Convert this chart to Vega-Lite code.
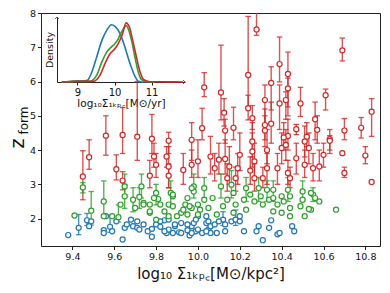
{
"$schema":"https://vega.github.io/schema/vega-lite/v6.json",
"width":339,"height":233,
"autosize":{"type":"none"},
"padding":{"left":41,"top":13,"right":10,"bottom":47},
"config":{"view":{"stroke":"#222","strokeWidth":1},"font":"DejaVu Sans",
 "axis":{"grid":false,"labelFont":"DejaVu Sans","titleFont":"DejaVu Sans","titleFontWeight":"normal","labelColor":"#111","titleColor":"#111","tickColor":"#222","domainColor":"#222","labelFontSize":9.5,"tickSize":3.5,"labelOverlap":false}},
"datasets":{
"pts":[
{"g":"A","x":9.38,"y":1.52},{"g":"A","x":9.43,"y":1.73,"lo":1.53,"hi":2.12},{"g":"A","x":9.47,"y":1.95,"lo":1.8,"hi":2.15},{"g":"A","x":9.48,"y":1.78},{"g":"A","x":9.49,"y":1.92},{"g":"A","x":9.55,"y":1.66},{"g":"A","x":9.55,"y":1.58},{"g":"A","x":9.58,"y":1.76,"lo":1.6,"hi":2.1},{"g":"A","x":9.59,"y":1.63},{"g":"A","x":9.56,"y":2.07},{"g":"A","x":9.61,"y":1.92},{"g":"A","x":9.64,"y":1.39},{"g":"A","x":9.65,"y":1.73},{"g":"A","x":9.66,"y":1.83},{"g":"A","x":9.68,"y":1.97},{"g":"A","x":9.69,"y":1.78},{"g":"A","x":9.71,"y":1.92},{"g":"A","x":9.71,"y":1.73},{"g":"A","x":9.72,"y":1.68},{"g":"A","x":9.74,"y":1.83},{"g":"A","x":9.76,"y":1.63},{"g":"A","x":9.78,"y":1.7},{"g":"A","x":9.78,"y":1.47},{"g":"A","x":9.8,"y":1.83},{"g":"A","x":9.82,"y":1.76},{"g":"A","x":9.84,"y":1.95},{"g":"A","x":9.85,"y":1.58},{"g":"A","x":9.86,"y":1.68},{"g":"A","x":9.89,"y":1.78},{"g":"A","x":9.91,"y":1.6},{"g":"A","x":9.92,"y":1.87},{"g":"A","x":9.95,"y":1.66},{"g":"A","x":9.96,"y":1.51},{"g":"A","x":9.97,"y":1.78},{"g":"A","x":9.99,"y":1.63},{"g":"A","x":9.82,"y":1.92},{"g":"A","x":9.84,"y":1.63},{"g":"A","x":9.88,"y":1.58},{"g":"A","x":9.89,"y":1.83},{"g":"A","x":9.92,"y":1.58},{"g":"A","x":9.95,"y":1.83},{"g":"A","x":9.97,"y":1.58},{"g":"A","x":9.98,"y":1.87},{"g":"A","x":10.04,"y":1.87},{"g":"A","x":10.05,"y":1.68},{"g":"A","x":10.06,"y":1.58},{"g":"A","x":10.04,"y":2.07},{"g":"A","x":10.0,"y":2.07},{"g":"A","x":9.86,"y":1.97},{"g":"A","x":9.99,"y":1.97},{"g":"A","x":10.0,"y":1.68},{"g":"A","x":10.02,"y":1.58},{"g":"A","x":10.05,"y":1.92},{"g":"A","x":10.06,"y":1.78},{"g":"A","x":10.08,"y":1.83},{"g":"A","x":10.09,"y":1.58},{"g":"A","x":10.12,"y":1.97,"lo":1.8,"hi":2.2},{"g":"A","x":10.13,"y":1.83},{"g":"A","x":10.13,"y":1.63},{"g":"A","x":10.16,"y":1.92},{"g":"A","x":10.18,"y":1.97,"lo":1.8,"hi":2.25},{"g":"A","x":10.2,"y":1.92},{"g":"A","x":10.22,"y":1.63},{"g":"A","x":10.2,"y":2.07},{"g":"A","x":10.29,"y":1.78},{"g":"A","x":10.28,"y":1.63},{"g":"A","x":10.31,"y":1.37},{"g":"A","x":10.35,"y":1.95},{"g":"A","x":10.34,"y":1.73},{"g":"A","x":10.38,"y":1.54},{"g":"A","x":10.39,"y":1.58},{"g":"A","x":10.45,"y":1.78},{"g":"A","x":10.46,"y":1.63},{"g":"A","x":10.04,"y":1.63},{"g":"A","x":10.1,"y":1.92},
{"g":"B","x":9.41,"y":2.09},{"g":"B","x":9.45,"y":2.91,"lo":2.75,"hi":3.05},{"g":"B","x":9.49,"y":2.23,"lo":1.81,"hi":2.79},{"g":"B","x":9.55,"y":2.5,"lo":2.1,"hi":3.1},{"g":"B","x":9.55,"y":2.07},{"g":"B","x":9.59,"y":2.07},{"g":"B","x":9.62,"y":2.04,"lo":1.9,"hi":2.4},{"g":"B","x":9.65,"y":2.65,"lo":2.3,"hi":3.0},{"g":"B","x":9.65,"y":2.94,"lo":2.7,"hi":3.3},{"g":"B","x":9.69,"y":2.55,"lo":2.2,"hi":2.9},{"g":"B","x":9.7,"y":2.31},{"g":"B","x":9.72,"y":2.63,"lo":2.3,"hi":2.9},{"g":"B","x":9.73,"y":2.94,"lo":2.6,"hi":3.3},{"g":"B","x":9.74,"y":2.46},{"g":"B","x":9.77,"y":2.17},{"g":"B","x":9.8,"y":2.75,"lo":2.4,"hi":3.0},{"g":"B","x":9.8,"y":1.97},{"g":"B","x":9.81,"y":2.57},{"g":"B","x":9.82,"y":2.41},{"g":"B","x":9.84,"y":2.21},{"g":"B","x":9.86,"y":2.41},{"g":"B","x":9.87,"y":2.75,"lo":2.4,"hi":3.1},{"g":"B","x":9.88,"y":2.65},{"g":"B","x":9.86,"y":2.07},{"g":"B","x":9.9,"y":2.07},{"g":"B","x":9.92,"y":2.17},{"g":"B","x":9.94,"y":2.41},{"g":"B","x":9.95,"y":2.12},{"g":"B","x":9.97,"y":2.31},{"g":"B","x":9.98,"y":2.94,"lo":2.6,"hi":3.3},{"g":"B","x":9.98,"y":2.79},{"g":"B","x":9.88,"y":2.7},{"g":"B","x":9.88,"y":2.36},{"g":"B","x":9.93,"y":2.26},{"g":"B","x":9.95,"y":2.6},{"g":"B","x":9.96,"y":2.36},{"g":"B","x":9.97,"y":2.89},{"g":"B","x":10.0,"y":2.41},{"g":"B","x":10.03,"y":2.89,"lo":2.6,"hi":3.2},{"g":"B","x":10.03,"y":2.55},{"g":"B","x":10.01,"y":2.26},{"g":"B","x":10.05,"y":2.31},{"g":"B","x":10.07,"y":2.6},{"g":"B","x":10.0,"y":2.12},{"g":"B","x":10.11,"y":2.94,"lo":2.6,"hi":3.3},{"g":"B","x":10.16,"y":2.99,"lo":2.6,"hi":3.4},{"g":"B","x":10.17,"y":2.75},{"g":"B","x":10.14,"y":2.55},{"g":"B","x":10.12,"y":2.36},{"g":"B","x":10.18,"y":2.41},{"g":"B","x":10.22,"y":2.55},{"g":"B","x":10.23,"y":2.26},{"g":"B","x":10.23,"y":2.89,"lo":2.5,"hi":3.2},{"g":"B","x":10.25,"y":2.7},{"g":"B","x":10.27,"y":2.5},{"g":"B","x":10.29,"y":2.89,"lo":2.5,"hi":3.2},{"g":"B","x":10.3,"y":2.65},{"g":"B","x":10.31,"y":2.41},{"g":"B","x":10.33,"y":2.84,"lo":2.5,"hi":3.1},{"g":"B","x":10.34,"y":2.55},{"g":"B","x":10.17,"y":2.17},{"g":"B","x":10.09,"y":2.12},{"g":"B","x":10.36,"y":2.84,"lo":2.5,"hi":3.1},{"g":"B","x":10.36,"y":2.6},{"g":"B","x":10.38,"y":2.41},{"g":"B","x":10.4,"y":2.65},{"g":"B","x":10.41,"y":2.5},{"g":"B","x":10.43,"y":2.84,"lo":2.5,"hi":3.2},{"g":"B","x":10.44,"y":2.65},{"g":"B","x":10.44,"y":2.31},{"g":"B","x":10.44,"y":2.07},{"g":"B","x":10.5,"y":2.79,"lo":2.5,"hi":3.1},{"g":"B","x":10.5,"y":2.55},{"g":"B","x":10.49,"y":2.36},{"g":"B","x":10.51,"y":2.07},{"g":"B","x":10.54,"y":2.26},{"g":"B","x":10.55,"y":2.7,"lo":2.5,"hi":2.9},{"g":"B","x":10.56,"y":2.6},{"g":"B","x":10.58,"y":2.5},{"g":"B","x":10.36,"y":2.21},{"g":"B","x":10.4,"y":2.17},{"g":"B","x":10.54,"y":2.75},{"g":"B","x":10.53,"y":2.28},{"g":"B","x":10.66,"y":2.26},{"g":"B","x":9.63,"y":2.41},{"g":"B","x":9.74,"y":2.41},{"g":"B","x":9.77,"y":2.41},{"g":"B","x":9.77,"y":2.21},{"g":"B","x":9.79,"y":2.6},
{"g":"C","x":10.28,"y":7.52,"lo":7.35,"hi":8.05},{"g":"C","x":10.24,"y":6.19,"lo":5.26,"hi":7.9},{"g":"C","x":10.24,"y":5.22,"lo":4.88,"hi":5.6},{"g":"C","x":10.11,"y":5.68,"lo":4.88,"hi":7.06},{"g":"C","x":10.39,"y":6.51,"lo":5.99,"hi":7.3},{"g":"C","x":10.43,"y":6.22,"lo":5.26,"hi":6.86},{"g":"C","x":10.43,"y":5.8,"lo":5.0,"hi":6.1},{"g":"C","x":10.35,"y":5.96,"lo":5.17,"hi":6.43},{"g":"C","x":10.69,"y":6.91,"lo":6.6,"hi":7.27},{"g":"C","x":10.61,"y":5.6,"lo":5.17,"hi":5.78},{"g":"C","x":10.49,"y":5.36,"lo":4.98,"hi":5.83},{"g":"C","x":10.32,"y":5.46,"lo":4.73,"hi":5.9},{"g":"C","x":10.39,"y":5.36,"lo":4.6,"hi":5.9},{"g":"C","x":10.42,"y":5.46,"lo":4.9,"hi":5.7},{"g":"C","x":10.26,"y":4.93,"lo":4.6,"hi":5.3},{"g":"C","x":10.35,"y":4.77,"lo":4.2,"hi":5.4},{"g":"C","x":10.32,"y":4.73,"lo":4.3,"hi":5.2},{"g":"C","x":10.17,"y":4.65,"lo":4.3,"hi":5.25},{"g":"C","x":10.125,"y":5.09,"lo":4.7,"hi":5.5},{"g":"C","x":10.56,"y":4.9,"lo":4.3,"hi":5.4},{"g":"C","x":10.57,"y":4.59,"lo":4.2,"hi":5.0},{"g":"C","x":10.47,"y":4.61,"lo":4.45,"hi":4.75},{"g":"C","x":10.7,"y":4.57,"lo":4.3,"hi":4.92},{"g":"C","x":10.78,"y":4.65,"lo":4.35,"hi":4.95},{"g":"C","x":10.83,"y":5.12,"lo":4.4,"hi":5.5},{"g":"C","x":10.13,"y":4.57,"lo":4.2,"hi":4.9},{"g":"C","x":10.43,"y":4.41,"lo":4.0,"hi":4.9},{"g":"C","x":10.41,"y":4.37,"lo":4.0,"hi":4.8},{"g":"C","x":10.32,"y":4.57,"lo":4.1,"hi":5.0},{"g":"C","x":10.63,"y":4.32,"lo":4.0,"hi":4.6},{"g":"C","x":10.52,"y":4.39,"lo":4.1,"hi":4.8},{"g":"C","x":10.03,"y":5.83,"lo":5.56,"hi":6.26},{"g":"C","x":10.02,"y":4.64,"lo":4.3,"hi":5.22},{"g":"C","x":9.56,"y":4.42,"lo":3.85,"hi":5.0},{"g":"C","x":9.64,"y":4.44,"lo":3.9,"hi":5.24},{"g":"C","x":9.71,"y":4.39,"lo":3.7,"hi":6.0},{"g":"C","x":9.78,"y":4.33,"lo":3.9,"hi":5.04},{"g":"C","x":9.86,"y":4.27,"lo":3.9,"hi":4.52},{"g":"C","x":9.97,"y":4.3,"lo":3.7,"hi":4.8},{"g":"C","x":9.45,"y":3.23,"lo":2.55,"hi":3.98},{"g":"C","x":9.48,"y":3.79,"lo":3.44,"hi":4.3},{"g":"C","x":9.61,"y":3.44,"lo":3.13,"hi":3.86},{"g":"C","x":9.64,"y":3.11,"lo":2.84,"hi":3.37},{"g":"C","x":9.77,"y":3.25,"lo":2.9,"hi":3.7},{"g":"C","x":9.8,"y":3.57,"lo":3.2,"hi":3.9},{"g":"C","x":9.79,"y":3.81,"lo":3.5,"hi":4.2},{"g":"C","x":9.86,"y":3.25,"lo":2.9,"hi":3.6},{"g":"C","x":9.85,"y":3.81,"lo":3.5,"hi":4.1},{"g":"C","x":9.93,"y":3.42,"lo":3.0,"hi":3.9},{"g":"C","x":9.97,"y":3.57,"lo":3.2,"hi":4.0},{"g":"C","x":9.86,"y":3.52,"lo":2.9,"hi":4.1},{"g":"C","x":10.0,"y":3.67,"lo":3.2,"hi":4.3},{"g":"C","x":10.06,"y":3.81,"lo":3.3,"hi":4.4},{"g":"C","x":10.13,"y":3.74,"lo":3.3,"hi":4.3},{"g":"C","x":10.15,"y":3.52,"lo":3.0,"hi":4.1},{"g":"C","x":10.14,"y":3.18,"lo":2.8,"hi":3.6},{"g":"C","x":10.2,"y":3.86,"lo":3.4,"hi":4.5},{"g":"C","x":10.19,"y":3.47,"lo":3.0,"hi":3.9},{"g":"C","x":10.18,"y":3.18,"lo":2.8,"hi":3.5},{"g":"C","x":10.26,"y":4.25,"lo":3.8,"hi":4.8},{"g":"C","x":10.26,"y":3.96,"lo":3.5,"hi":4.5},{"g":"C","x":10.27,"y":3.67,"lo":3.2,"hi":4.2},{"g":"C","x":10.27,"y":3.18,"lo":2.8,"hi":3.6},{"g":"C","x":10.33,"y":4.0,"lo":3.6,"hi":4.6},{"g":"C","x":10.33,"y":3.47,"lo":3.0,"hi":3.9},{"g":"C","x":10.31,"y":3.18,"lo":2.9,"hi":3.5},{"g":"C","x":10.08,"y":3.47,"lo":3.1,"hi":3.9},{"g":"C","x":10.1,"y":3.72,"lo":3.3,"hi":4.2},{"g":"C","x":10.25,"y":3.4,"lo":3.0,"hi":3.8},{"g":"C","x":10.4,"y":4.06,"lo":3.6,"hi":4.5},{"g":"C","x":10.47,"y":3.76,"lo":3.3,"hi":4.2},{"g":"C","x":10.51,"y":3.57,"lo":3.2,"hi":4.0},{"g":"C","x":10.38,"y":3.47,"lo":3.0,"hi":3.9},{"g":"C","x":10.43,"y":3.33,"lo":3.0,"hi":3.7},{"g":"C","x":10.44,"y":3.18,"lo":2.9,"hi":3.5},{"g":"C","x":10.55,"y":3.47,"lo":3.1,"hi":3.9},{"g":"C","x":10.58,"y":3.52,"lo":3.1,"hi":4.0},{"g":"C","x":10.6,"y":3.86,"lo":3.5,"hi":4.2},{"g":"C","x":10.53,"y":4.06,"lo":3.6,"hi":4.5},{"g":"C","x":10.51,"y":4.25,"lo":3.8,"hi":4.7},{"g":"C","x":10.42,"y":4.15,"lo":3.7,"hi":4.6},{"g":"C","x":10.63,"y":4.27,"lo":3.9,"hi":4.42},{"g":"C","x":10.69,"y":3.91},{"g":"C","x":10.8,"y":3.84,"lo":3.6,"hi":4.1},{"g":"C","x":10.7,"y":3.33,"lo":3.2,"hi":3.5},{"g":"C","x":10.83,"y":3.07}
],
"kde":[
{"g":"A","x":8.58,"d":0},{"g":"A","x":8.8,"d":0.01},{"g":"A","x":8.98,"d":0.03},{"g":"A","x":9.15,"d":0.03},{"g":"A","x":9.27,"d":0.05},{"g":"A","x":9.39,"d":0.31},{"g":"A","x":9.52,"d":0.77},{"g":"A","x":9.66,"d":1.28},{"g":"A","x":9.79,"d":1.59},{"g":"A","x":9.92,"d":1.76},{"g":"A","x":10.01,"d":1.71},{"g":"A","x":10.15,"d":1.49},{"g":"A","x":10.28,"d":1.08},{"g":"A","x":10.42,"d":0.56},{"g":"A","x":10.55,"d":0.18},{"g":"A","x":10.64,"d":0.02},{"g":"A","x":10.73,"d":0},{"g":"A","x":10.9,"d":0},
{"g":"B","x":8.58,"d":0},{"g":"B","x":8.98,"d":0.02},{"g":"B","x":9.2,"d":0.02},{"g":"B","x":9.34,"d":0.02},{"g":"B","x":9.52,"d":0.21},{"g":"B","x":9.66,"d":0.62},{"g":"B","x":9.79,"d":0.92},{"g":"B","x":9.92,"d":1.08},{"g":"B","x":10.01,"d":1.18},{"g":"B","x":10.1,"d":1.33},{"g":"B","x":10.19,"d":1.54},{"g":"B","x":10.28,"d":1.71},{"g":"B","x":10.31,"d":1.74},{"g":"B","x":10.37,"d":1.64},{"g":"B","x":10.46,"d":1.28},{"g":"B","x":10.55,"d":0.77},{"g":"B","x":10.64,"d":0.31},{"g":"B","x":10.73,"d":0.07},{"g":"B","x":10.87,"d":0.01},{"g":"B","x":11.1,"d":0},
{"g":"C","x":8.58,"d":0},{"g":"C","x":8.98,"d":0.02},{"g":"C","x":9.2,"d":0.02},{"g":"C","x":9.43,"d":0.02},{"g":"C","x":9.61,"d":0.21},{"g":"C","x":9.74,"d":0.56},{"g":"C","x":9.88,"d":0.87},{"g":"C","x":10.01,"d":1.02},{"g":"C","x":10.1,"d":1.18},{"g":"C","x":10.22,"d":1.49},{"g":"C","x":10.31,"d":1.82},{"g":"C","x":10.4,"d":1.69},{"g":"C","x":10.49,"d":1.28},{"g":"C","x":10.6,"d":0.72},{"g":"C","x":10.69,"d":0.31},{"g":"C","x":10.79,"d":0.07},{"g":"C","x":10.95,"d":0.01},{"g":"C","x":11.4,"d":0.005},{"g":"C","x":11.85,"d":0}
],
"arrows":[{"x":8.45,"d":2.0,"dir":"up"},{"x":11.9,"d":0,"dir":"right"}]
},
"layer":[
{"data":{"name":"pts"},
 "encoding":{
  "x":{"field":"x","type":"quantitative","scale":{"domain":[9.25,10.87],"nice":false,"zero":false},
   "axis":{"orient":"bottom","values":[9.4,9.6,9.8,10.0,10.2,10.4,10.6,10.8],"format":".1f","domain":false,"title":"log₁₀ Σ₁ₖₚ꜀[M⊙/kpc²]","titleFontSize":15,"titleY":20,"titleBaseline":"top"}},
  "color":{"field":"g","type":"nominal","scale":{"domain":["A","B","C"],"range":["#1f77b4","#2ca02c","#d62728"]},"legend":null}
 },
 "layer":[
  {"transform":[{"filter":"isValid(datum.lo)"}],"mark":{"type":"rule","strokeWidth":1.4,"opacity":0.8,"clip":true},
   "encoding":{"y":{"field":"lo","type":"quantitative","scale":{"domain":[1.2,8],"nice":false,"zero":false},"axis":{"orient":"left","values":[2,3,4,5,6,7,8],"tickCount":7,"domain":false,"labelOverlap":false,"title":"z","titleFontSize":19,"titleAngle":270,"titleX":-18,"titleY":130,"titleBaseline":"alphabetic","titleAlign":"center"}},"y2":{"field":"hi"}}},
  {"transform":[{"filter":"isValid(datum.lo)"}],"mark":{"type":"tick","orient":"horizontal","size":5.5,"thickness":1.3,"opacity":0.8,"clip":true},
   "encoding":{"y":{"field":"lo","type":"quantitative","scale":{"domain":[1.2,8],"nice":false,"zero":false},"axis":{"orient":"left","values":[2,3,4,5,6,7,8],"tickCount":7,"domain":false,"labelOverlap":false,"title":"z","titleFontSize":19,"titleAngle":270,"titleX":-18,"titleY":130,"titleBaseline":"alphabetic","titleAlign":"center"}}}},
  {"transform":[{"filter":"isValid(datum.hi)"}],"mark":{"type":"tick","orient":"horizontal","size":5.5,"thickness":1.3,"opacity":0.8,"clip":true},
   "encoding":{"y":{"field":"hi","type":"quantitative","scale":{"domain":[1.2,8],"nice":false,"zero":false},"axis":{"orient":"left","values":[2,3,4,5,6,7,8],"tickCount":7,"domain":false,"labelOverlap":false,"title":"z","titleFontSize":19,"titleAngle":270,"titleX":-18,"titleY":130,"titleBaseline":"alphabetic","titleAlign":"center"}}}},
  {"mark":{"type":"point","shape":"circle","filled":false,"fill":"white","fillOpacity":1,"size":26,"strokeWidth":1.2,"opacity":1},
   "encoding":{"y":{"field":"y","type":"quantitative","scale":{"domain":[1.2,8],"nice":false,"zero":false},"axis":{"orient":"left","values":[2,3,4,5,6,7,8],"tickCount":7,"domain":false,"labelOverlap":false,"title":"z","titleFontSize":19,"titleAngle":270,"titleX":-18,"titleY":130,"titleBaseline":"alphabetic","titleAlign":"center"}}}}
 ]},
{"layer":[
  {"data":{"name":"kde"},"mark":{"type":"line","strokeWidth":1.6,"interpolate":"monotone"},
   "encoding":{
    "x":{"field":"x","type":"quantitative","scale":{"domain":[8.45,11.9],"range":[16,144],"nice":false,"zero":false},
     "axis":{"orient":"bottom","offset":-164,"values":[9,10,11],"format":"d","domain":true,"labelFontSize":10,"tickSize":3,"title":"log₁₀Σ₁ₖₚ꜀[M⊙/yr]","titleFontSize":10.5,"titlePadding":1}},
    "y":{"field":"d","type":"quantitative","scale":{"domain":[0,2.0],"range":[69,4],"nice":false,"zero":false},
     "axis":{"orient":"left","offset":-16,"labels":false,"ticks":false,"domain":true,"title":"Density","titleFontSize":9.5,"titlePadding":3}},
    "color":{"field":"g","type":"nominal","scale":{"domain":["A","B","C"],"range":["#1f77b4","#2ca02c","#d62728"]},"legend":null}}},
  {"data":{"name":"arrows"},"transform":[{"filter":"datum.dir==='up'"}],"mark":{"type":"point","shape":"M-1,1L0,0L1,1","filled":false,"stroke":"#222","strokeWidth":1,"size":16},
   "encoding":{"x":{"field":"x","type":"quantitative"},"y":{"field":"d","type":"quantitative"}}},
  {"data":{"name":"arrows"},"transform":[{"filter":"datum.dir==='right'"}],"mark":{"type":"point","shape":"M-1,-1L0,0L-1,1","filled":false,"stroke":"#222","strokeWidth":1,"size":16},
   "encoding":{"x":{"field":"x","type":"quantitative"},"y":{"field":"d","type":"quantitative"}}}
 ]},
{"data":{"values":[{"v":0}]},"mark":{"type":"rule","opacity":0},
 "encoding":{"y":{"field":"v","type":"quantitative","axis":{"orient":"left","labels":false,"ticks":false,"domain":false,"title":"form","titleFontSize":12,"titleAngle":270,"titleX":-14,"titleY":107,"titleBaseline":"alphabetic","titleAlign":"center"}}}}
],
"resolve":{"scale":{"x":"independent","y":"independent","color":"independent"},"axis":{"x":"independent","y":"independent"}}
}
